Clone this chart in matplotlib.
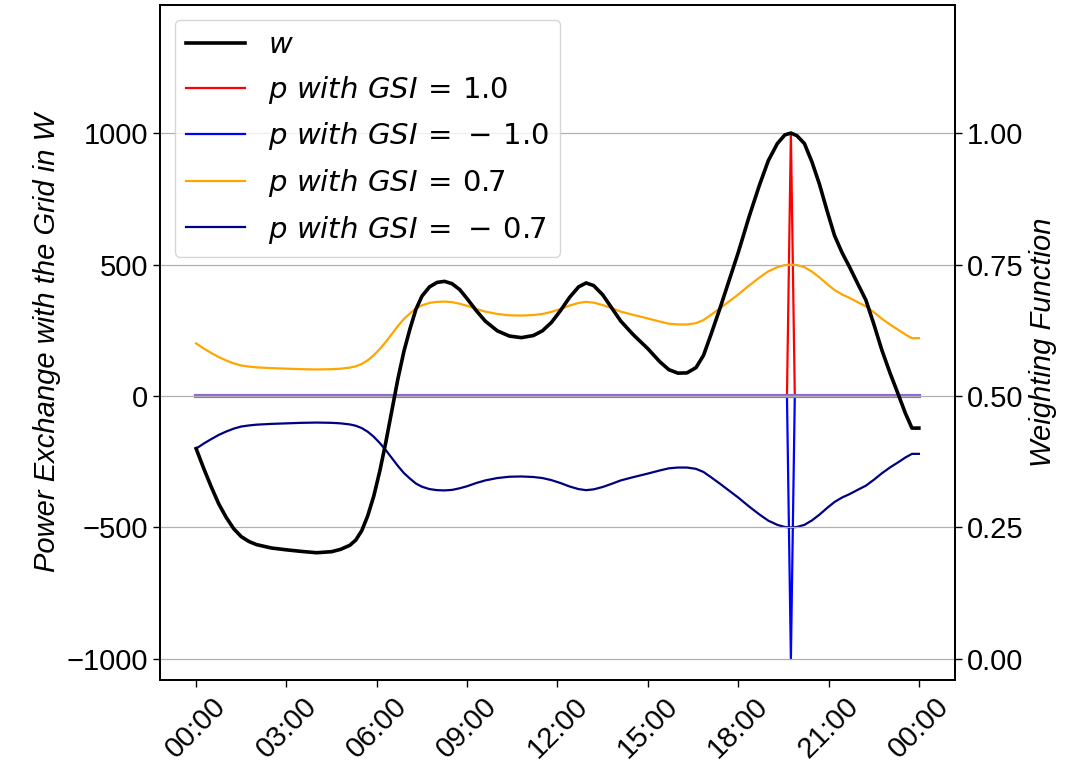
import datetime as dt

import matplotlib
matplotlib.use("Agg")
import matplotlib.pyplot as plt
import matplotlib.dates as mdates
import matplotlib.ticker as mticker

plt.rcParams["font.family"] = ["Liberation Sans", "DejaVu Sans"]
plt.rcParams["font.size"] = 21

# Time of day in hours for the smooth curves
hours = [0.0, 0.25, 0.5, 0.75, 1.0, 1.25, 1.5, 1.75, 2.0, 2.5, 3.0, 3.5,
         4.0, 4.5, 4.8, 5.1, 5.3, 5.5, 5.7, 5.9, 6.1, 6.3, 6.5, 6.7, 6.9,
         7.1, 7.3, 7.5, 7.75, 8.0, 8.25, 8.5, 8.75, 9.0, 9.3, 9.6, 10.0,
         10.4, 10.8, 11.2, 11.5, 11.8, 12.1, 12.4, 12.7, 12.95, 13.2, 13.5,
         13.8, 14.1, 14.5, 15.0, 15.4, 15.7, 16.0, 16.3, 16.6, 16.85, 17.1,
         17.4, 17.7, 18.0, 18.36, 18.7, 19.0, 19.3, 19.55, 19.75, 19.95,
         20.2, 20.45, 20.7, 20.95, 21.2, 21.45, 21.7, 22.0, 22.24, 22.5,
         22.77, 23.05, 23.3, 23.55, 23.77, 24.0]

# Weighting function w (right axis)
weight = [0.400, 0.3625, 0.3275, 0.295, 0.269, 0.2475, 0.2325, 0.2235,
          0.2175, 0.211, 0.2075, 0.2045, 0.202, 0.204, 0.2085, 0.216, 0.226,
          0.244, 0.2725, 0.310, 0.3575, 0.4125, 0.4725, 0.5325, 0.585,
          0.6275, 0.665, 0.690, 0.7075, 0.716, 0.718, 0.7135, 0.7025, 0.685,
          0.6625, 0.6425, 0.624, 0.614, 0.611, 0.615, 0.624, 0.640, 0.6625,
          0.6875, 0.7075, 0.715, 0.710, 0.6925, 0.6675, 0.6425, 0.6175,
          0.590, 0.565, 0.550, 0.5435, 0.544, 0.554, 0.5775, 0.6175, 0.6675,
          0.720, 0.7725, 0.8405, 0.900, 0.9475, 0.980, 0.9965, 1.000, 0.995,
          0.980, 0.945, 0.9025, 0.8525, 0.805, 0.7725, 0.745, 0.710, 0.6825,
          0.6375, 0.5875, 0.5425, 0.5055, 0.4675, 0.439, 0.439]

# Grid exchange for GSI = 0.7 and GSI = -0.7 (W)
p_gsi_07 = [200, 181, 164, 148, 135, 124, 116, 112, 109, 106, 104, 102, 101,
            102, 104, 108, 113, 122, 136, 155, 179, 206, 236, 266, 293, 314,
            333, 345, 354, 358, 359, 357, 351, 343, 331, 321, 312, 307, 306,
            308, 312, 320, 331, 344, 354, 358, 355, 346, 334, 321, 309, 295,
            283, 275, 272, 272, 277, 289, 309, 334, 360, 386, 420, 450, 474,
            490, 498, 500, 498, 490, 473, 451, 426, 403, 386, 373, 355, 341,
            319, 294, 271, 253, 234, 220, 220]
p_gsi_m07 = [-200, -181, -164, -148, -135, -124, -116, -112, -109, -106,
             -104, -102, -101, -102, -104, -108, -113, -122, -136, -155, -179,
             -206, -236, -266, -293, -314, -333, -345, -354, -358, -359, -357,
             -351, -343, -331, -321, -312, -307, -306, -308, -312, -320, -331,
             -344, -354, -358, -355, -346, -334, -321, -309, -295, -283, -275,
             -272, -272, -277, -289, -309, -334, -360, -386, -420, -450, -474,
             -490, -498, -500, -498, -490, -473, -451, -426, -403, -386, -373,
             -355, -341, -319, -294, -271, -253, -234, -220, -220]

# Grid exchange for GSI = +/-1.0: single peak at the maximum of w
spike_hours = [0.0, 19.62, 19.75, 19.88, 24.0]
p_gsi_1 = [0, 0, 1000, 0, 0]
p_gsi_m1 = [0, 0, -1000, 0, 0]

# Grid exchange for GSI = 0
zero_hours = [0.0, 24.0]
p_gsi_0 = [0, 0]

day = dt.datetime(2023, 1, 1)


def to_time(hs):
    return [day + dt.timedelta(hours=h) for h in hs]


fig = plt.figure(figsize=(10.83, 7.62), dpi=100)
ax1 = fig.add_axes([160 / 1083, 1 - 680 / 762, 795 / 1083, 675 / 762])
ax2 = ax1.twinx()

l_p1, = ax1.plot(to_time(spike_hours), p_gsi_1, color="red", lw=1.6,
                 label=r"$p\ with\ GSI\,=\,1.0$")
l_pm1, = ax1.plot(to_time(spike_hours), p_gsi_m1, color="blue", lw=1.6,
                  label=r"$p\ with\ GSI\,=\,-\,1.0$")
l_p07, = ax1.plot(to_time(hours), p_gsi_07, color="orange", lw=1.6,
                  label=r"$p\ with\ GSI\,=\,0.7$")
l_pm07, = ax1.plot(to_time(hours), p_gsi_m07, color="navy", lw=1.6,
                   label=r"$p\ with\ GSI\,=\,-\,0.7$")
ax1.plot(to_time(zero_hours), p_gsi_0, color="#8f68d2", lw=3.0)

l_w, = ax2.plot(to_time(hours), weight, color="black", lw=2.6, label=r"$w$")

ax1.set_ylim(-1080, 1487)
ax2.set_ylim(-0.040, 1.2435)
ax1.set_yticks([-1000, -500, 0, 500, 1000])
ax2.set_yticks([0.0, 0.25, 0.5, 0.75, 1.0])
ax2.yaxis.set_major_formatter(mticker.FormatStrFormatter("%.2f"))
ax2.yaxis.grid(True, color="#b0b0b0", lw=0.9)

ax1.xaxis.set_major_locator(mdates.HourLocator(byhour=range(0, 24, 3)))
ax1.xaxis.set_major_formatter(mdates.DateFormatter("%H:%M"))
for lab in ax1.get_xticklabels():
    lab.set_rotation(45)
    lab.set_ha("center")

ax1.set_ylabel("Power Exchange with the Grid in W", fontstyle="italic")
ax2.set_ylabel("Weighting Function", fontstyle="italic")

for ax in (ax1, ax2):
    for sp in ax.spines.values():
        sp.set_linewidth(1.3)
    ax.tick_params(width=1.0, length=5)

ax2.legend(handles=[l_w, l_p1, l_pm1, l_p07, l_pm07], loc="upper left",
           fontsize=21)

fig.savefig("out.png", dpi=100)
